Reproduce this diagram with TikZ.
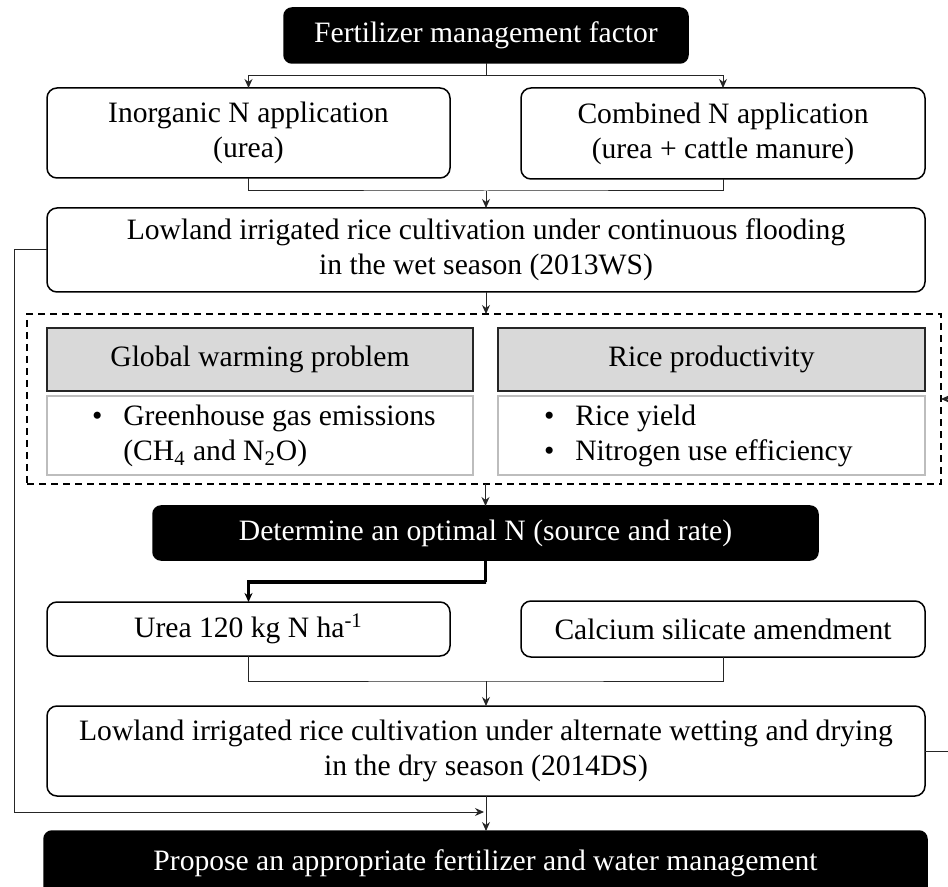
\documentclass[tikz,border=0pt]{standalone}
\usepackage{fontspec}
\setmainfont{Liberation Serif}
\usetikzlibrary{arrows.meta}
\definecolor{hdrgray}{HTML}{D9D9D9}
\definecolor{bodygray}{HTML}{BDBDBD}
\begin{document}
\begin{tikzpicture}[x=0.5pt,y=-0.5pt,
  font=\fontsize{14.8pt}{17.5pt}\selectfont,
  every node/.style={inner sep=0pt, outer sep=0pt},
  blackbox/.style={draw=black, fill=black, text=white, rounded corners=4pt, line width=0.75pt, align=center},
  whitebox/.style={draw=black, fill=white, rounded corners=5pt, line width=0.75pt, align=center},
  hdrbox/.style={draw=black!85, fill=hdrgray, line width=0.9pt, align=center},
  bodybox/.style={draw=bodygray, fill=white, line width=0.9pt},
  conn/.style={draw=black!85, line width=0.5pt},
  arr/.style={conn, -{Stealth[length=4.5pt,width=4pt]}},
  thickarr/.style={draw=black, line width=1.6pt, -{Stealth[length=4.5pt,width=4pt]}}
]
\useasboundingbox (0,0) rectangle (948,887);
\clip (0,0) rectangle (948,887);

% nodes
\node[blackbox, minimum width=202pt, minimum height=27.5pt] (top) at (486,35.5) {Fertilizer management factor};
\node[whitebox, minimum width=201.5pt, minimum height=45pt] (inorg) at (248.5,133) {Inorganic N application\\(urea)};
\node[whitebox, minimum width=202pt, minimum height=45.5pt] (comb) at (723,133.5) {Combined N application\\(urea + cattle manure)};
\node[whitebox, minimum width=439pt, minimum height=42pt] (ws) at (486,250) {Lowland irrigated rice cultivation under continuous flooding\\in the wet season (2013WS)};

\node[draw=black, line width=0.8pt, dash pattern=on 3.5pt off 2.5pt, minimum width=457pt, minimum height=85pt] (dbox) at (484,399) {};

\node[hdrbox, minimum width=213pt, minimum height=31.5pt] (gwh) at (260,359.5) {Global warming problem};
\node[hdrbox, minimum width=213.5pt, minimum height=31.5pt] (rph) at (711.5,359.5) {Rice productivity};
\node[bodybox, minimum width=213pt, minimum height=39.5pt] (gwb) at (260,435.5) {};
\node[bodybox, minimum width=213.5pt, minimum height=39.5pt] (rpb) at (711.5,435.5) {};
\node[anchor=west, align=left] (gwt) at (92,436.5) {\begin{tabular}{@{}l@{\hspace{10.5pt}}l@{}}\textbullet & Greenhouse gas emissions\\ & (CH\textsubscript{4} and N\textsubscript{2}O)\end{tabular}};
\node[anchor=west, align=left] (rpt) at (544,436.5) {\begin{tabular}{@{}l@{\hspace{10.5pt}}l@{}}\textbullet & Rice yield\\ \textbullet & Nitrogen use efficiency\end{tabular}};

\node[blackbox, minimum width=332.5pt, minimum height=27pt] (det) at (485.5,533) {Determine an optimal N (source and rate)};
\node[whitebox, minimum width=201.5pt, minimum height=27pt] (urea) at (248.5,629) {Urea 120 kg N ha\textsuperscript{-1}};
\node[whitebox, minimum width=202pt, minimum height=28pt] (cal) at (723,629) {Calcium silicate amendment};
\node[whitebox, minimum width=439pt, minimum height=45pt] (ds) at (486,751) {Lowland irrigated rice cultivation under alternate wetting and drying\\in the dry season (2014DS)};
\node[blackbox, minimum width=441.5pt, minimum height=32pt] (final) at (485.5,863) {Propose an appropriate fertilizer and water management};

% junction coordinates
\coordinate (j1) at (486,76);
\coordinate (j2) at (486,191);
\coordinate (j3) at (486,582);
\coordinate (j4) at (486,681);
\coordinate (lc1) at (14,250);
\coordinate (lc2) at (14,812);
\coordinate (lend) at (484,812);
\coordinate (rc1) at (965,751);
\coordinate (rc2) at (965,399);

% connectors
\draw[conn] (top.south) -- (j1);
\draw[arr] (j1) -| (inorg.north);
\draw[arr] (j1) -| (comb.north);
\draw[conn] (inorg.south) |- (j2) -| (comb.south);
\draw[arr] (j2) -- (j2 |- ws.north);
\draw[arr] (ws.south) -- (ws.south |- dbox.north);
\draw[arr] (det.north |- dbox.south) -- (det.north);
\draw[thickarr] (det.south) |- (j3) -| (urea.north);
\draw[conn] (urea.south) |- (j4) -| (cal.south);
\draw[arr] (j4) -- (j4 |- ds.north);
\draw[arr] (ds.south) -- (ds.south |- final.north);
\draw[arr] (ws.west) -- (lc1) -- (lc2) -- (lend);
\draw[arr] (ds.east) -- (rc1) -- (rc2) -- (rc2 -| dbox.east);
\end{tikzpicture}
\end{document}
